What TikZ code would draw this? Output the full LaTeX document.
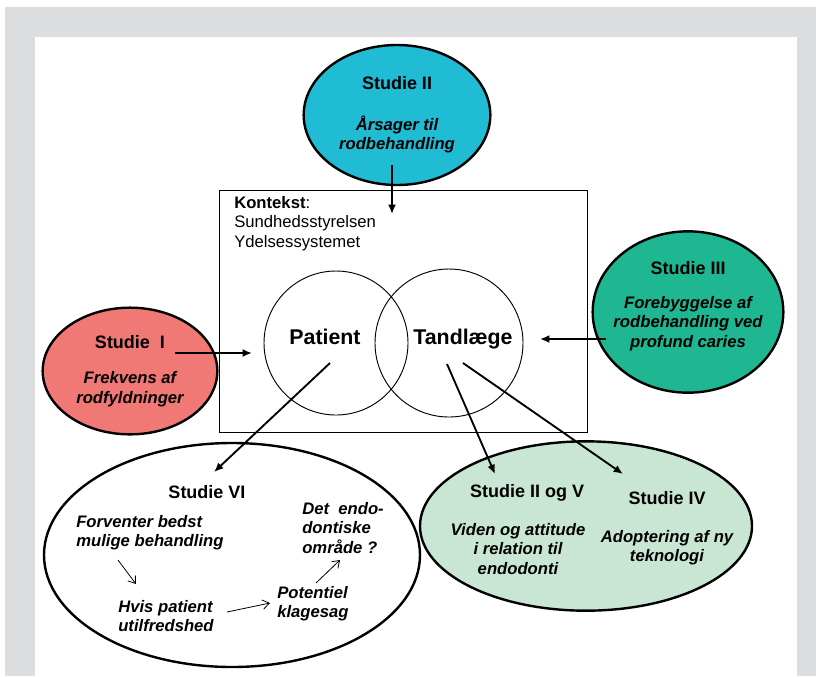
\documentclass[tikz,border=0pt]{standalone}
\usepackage{fontspec}
\setmainfont{Liberation Sans}
\usepackage{xcolor}
\usetikzlibrary{arrows.meta, shapes.geometric}
\definecolor{studiecyan}{RGB}{32, 188, 212}
\definecolor{studiered}{RGB}{241, 121, 117}
\definecolor{studiegreen}{RGB}{30, 183, 146}
\definecolor{studiemint}{RGB}{201, 230, 213}
\definecolor{pagegray}{RGB}{220, 221, 223}
\newcommand{\stitle}[1]{{\bfseries\fontsize{13.5}{16}\selectfont #1}}
\newcommand{\sbody}[1]{{\bfseries\itshape\fontsize{12.5}{14.5}\selectfont #1}}

\begin{document}
\begin{tikzpicture}[x=0.75pt, y=-0.75pt, >={Latex[length=7pt, width=6pt]},
    studie/.style={ellipse, draw, line width=1.8pt, inner sep=0pt, align=center,
        font=\fontsize{12.5}{14.5}\selectfont},
    head/.style={font=\bfseries\fontsize{13.5}{16}\selectfont, inner sep=0pt},
    emph/.style={font=\bfseries\itshape\fontsize{12.5}{14.5}\selectfont, inner sep=0pt},
    link/.style={->, line width=1.4pt},
    thin link/.style={-{Straight Barb[length=5pt, width=7pt]}, line width=0.6pt}]
    \useasboundingbox (0,0) rectangle (816,676);
    \fill[pagegray] (5,7) rectangle (816,676);
    \fill[white] (35,37) rectangle (797,676);

    % kontekst
    \node[draw, line width=0.7pt, minimum width=276pt, minimum height=181.5pt] (ctx) at (403,311) {};
    \node[anchor=north west, align=left, inner sep=0pt, font=\fontsize{12.5}{14.6}\selectfont] (ctxtext) at (234,196)
        {\textbf{Kontekst}:\\Sundhedsstyrelsen\\Ydelsessystemet};
    \node[circle, draw, line width=0.7pt, minimum size=108pt, inner sep=0pt] (patc) at (336,343) {};
    \node[circle, draw, line width=0.7pt, minimum size=111pt, inner sep=0pt] (tandc) at (449,343) {};
    \node[inner sep=0pt, font=\bfseries\fontsize{16}{18}\selectfont] (pat) at (325,337) {Patient};
    \node[inner sep=0pt, font=\bfseries\fontsize{16}{18}\selectfont] (tand) at (463,339) {Tandlæge};

    % studier
    \node[studie, fill=studiecyan, minimum width=140pt, minimum height=105pt] (s2) at (397,115)
        {\stitle{Studie II}\\[16pt]\sbody{Årsager til}\\\sbody{rodbehandling}};
    \node[studie, fill=studiered, minimum width=131pt, minimum height=95pt] (s1) at (130,371)
        {\stitle{Studie\ \ I}\\[12pt]\sbody{Frekvens af}\\\sbody{rodfyldninger}};
    \node[studie, fill=studiegreen, minimum width=143pt, minimum height=121pt] (s3) at (688,312) {};
    \node[align=center, inner sep=0pt, font=\fontsize{12.5}{14.5}\selectfont] (s3text) at (688,306)
        {\stitle{Studie III}\\[11pt]\sbody{Forebyggelse af}\\\sbody{rodbehandling ved}\\\sbody{profund caries}};
    \node[studie, fill=white, minimum width=282pt, minimum height=168pt] (s6) at (232,555) {};
    \node[studie, fill=studiemint, minimum width=249pt, minimum height=127pt] (s25) at (586,526) {};

    % studie VI
    \node[head] (s6head) at (207,492) {Studie VI};
    \node[emph, anchor=west, align=left] (forv) at (76,533) {Forventer bedst\\mulige behandling};
    \node[emph, anchor=west, align=left] (endo) at (302,528) {Det\ \ endo-\\dontiske\\område ?};
    \node[emph, anchor=west, align=left] (hvis) at (118,616) {Hvis patient\\utilfredshed};
    \node[emph, anchor=west, align=left] (klage) at (277,604) {Potentiel\\klagesag};
    \coordinate (a1) at (118,560);
    \coordinate (b1) at (136,584);
    \coordinate (a2) at (227,612);
    \coordinate (b2) at (270,603);
    \coordinate (a3) at (316,583);
    \coordinate (b3) at (340,560);
    \draw[thin link] (a1) -- (b1);
    \draw[thin link] (a2) -- (b2);
    \draw[thin link] (a3) -- (b3);

    % studie II og V, IV
    \node[head] (s25head) at (527,493) {Studie II og V};
    \node[head] (s4head) at (667,498) {Studie IV};
    \node[emph, align=center] (viden) at (518,549) {Viden og attitude\\i relation til\\endodonti};
    \node[emph, align=center] (adopt) at (667,548) {Adoptering af ny\\teknologi};

    % pile
    \coordinate (s2out) at (392,165);
    \coordinate (s2in) at (392,214);
    \coordinate (s1out) at (175,353);
    \coordinate (s1in) at (252,353);
    \coordinate (s3out) at (606,339);
    \coordinate (s3in) at (540,339);
    \coordinate (patout) at (330,363);
    \coordinate (s6in) at (214,472);
    \coordinate (tandout1) at (447,364);
    \coordinate (s25in) at (495,474);
    \coordinate (tandout2) at (463,363);
    \coordinate (s4in) at (623,474);
    \draw[link] (s2out) -- (s2in);
    \draw[link] (s1out) -- (s1in);
    \draw[link] (s3out) -- (s3in);
    \draw[link] (patout) -- (s6in);
    \draw[link] (tandout1) -- (s25in);
    \draw[link] (tandout2) -- (s4in);
\end{tikzpicture}
\end{document}
